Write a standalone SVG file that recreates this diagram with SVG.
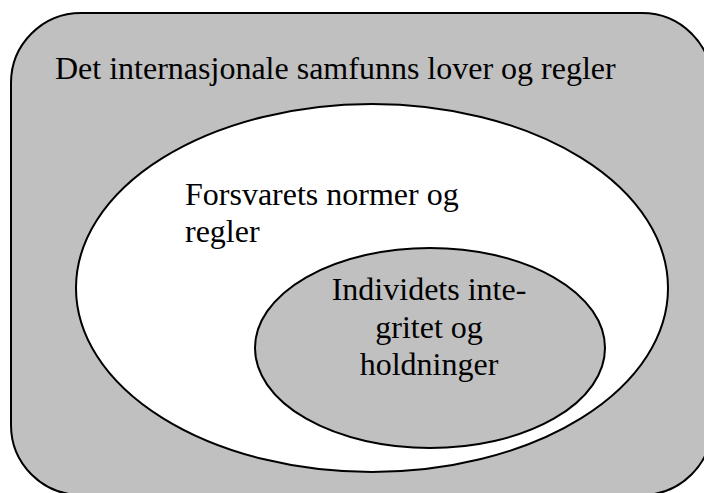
<svg xmlns="http://www.w3.org/2000/svg" width="704" height="493" viewBox="0 0 704 493">
<style>
.s{stroke:#000;stroke-width:2}
.g{fill:#c0c0c0}
.t{font-family:"Liberation Serif","Times New Roman",serif;font-size:32px;fill:#000}
</style>
<rect width="704" height="493" fill="#fff"/>
<g id="outer">
<rect class="s g" x="11" y="13" width="701" height="482" rx="70" ry="70"/>
<text class="t" x="55" y="79">Det internasjonale samfunns lover og regler</text>
</g>
<g id="middle">
<ellipse class="s" fill="#fff" cx="372" cy="288" rx="296" ry="184"/>
<text class="t" x="185" y="205">Forsvarets normer og</text>
<text class="t" x="185" y="242">regler</text>
</g>
<g id="inner">
<ellipse class="s g" cx="430" cy="348" rx="175" ry="100"/>
<text class="t" text-anchor="middle" x="429" y="300">Individets inte-</text>
<text class="t" text-anchor="middle" x="429" y="338">gritet og</text>
<text class="t" text-anchor="middle" x="429" y="375">holdninger</text>
</g>
<g id="connectors"/>
</svg>
